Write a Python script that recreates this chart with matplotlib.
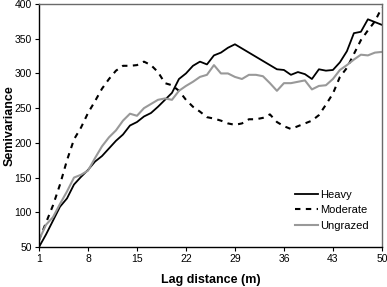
import matplotlib
matplotlib.use("Agg")
import matplotlib.pyplot as plt

lag = list(range(1, 51))
heavy = [50, 68, 88, 108, 120, 140, 151, 161, 173, 181,
         192, 203, 212, 225, 230, 238, 243, 252, 262, 272,
         292, 300, 311, 317, 313, 326, 330, 337, 342, 336,
         330, 324, 318, 312, 306, 305, 298, 302, 299, 292,
         306, 304, 305, 316, 332, 358, 360, 378, 374, 370]
moderate = [60, 85, 110, 140, 175, 205, 222, 243, 260, 278,
            292, 304, 311, 311, 312, 317, 312, 302, 286, 283,
            275, 262, 252, 245, 237, 235, 232, 228, 226, 228,
            234, 234, 236, 241, 230, 224, 220, 224, 228, 232,
            240, 255, 271, 295, 308, 328, 348, 362, 375, 395]
ungrazed = [60, 82, 93, 112, 130, 150, 154, 160, 178, 195,
            208, 218, 232, 242, 239, 250, 256, 262, 264, 262,
            275, 282, 288, 295, 298, 312, 300, 300, 295, 292,
            298, 298, 296, 286, 275, 286, 286, 288, 290, 277,
            282, 283, 292, 305, 312, 320, 327, 326, 330, 331]
xticks = [1, 8, 15, 22, 29, 36, 43, 50]
yticks = [50, 100, 150, 200, 250, 300, 350, 400]

plt.rcParams['font.family'] = ['Liberation Sans', 'DejaVu Sans']

fig = plt.figure(figsize=(3.87, 2.87), dpi=100)
ax = fig.add_axes([0.1008, 0.1394, 0.886, 0.8466])

ax.plot(lag, heavy, color='black', lw=1.3, label='Heavy')
ax.plot(lag, moderate, color='black', lw=1.5, dashes=(2.6, 2.6), label='Moderate')
ax.plot(lag, ungrazed, color='#999999', lw=1.5, label='Ungrazed')

ax.set_xlim(1, 50)
ax.set_ylim(50, 400)
ax.set_xticks(xticks)
ax.set_yticks(yticks)
ax.tick_params(direction='out', length=3, width=0.8, labelsize=7.5, pad=2)

for s in ['left', 'bottom']:
    ax.spines[s].set_color('black')
    ax.spines[s].set_linewidth(1.0)
for s in ['top', 'right']:
    ax.spines[s].set_color('#6a6a6a')
    ax.spines[s].set_linewidth(1.0)

ax.set_xlabel('Lag distance (m)', fontsize=9, fontweight='bold', labelpad=7)
ax.set_ylabel('Semivariance', fontsize=9, fontweight='bold')
ax.yaxis.set_label_coords(-0.068, 0.5)

ax.legend(loc='lower right', bbox_to_anchor=(0.99, 0.025), frameon=False,
          fontsize=8, handlelength=2.0, handletextpad=0.2, labelspacing=0.5)

fig.savefig('out.png', dpi=100)
